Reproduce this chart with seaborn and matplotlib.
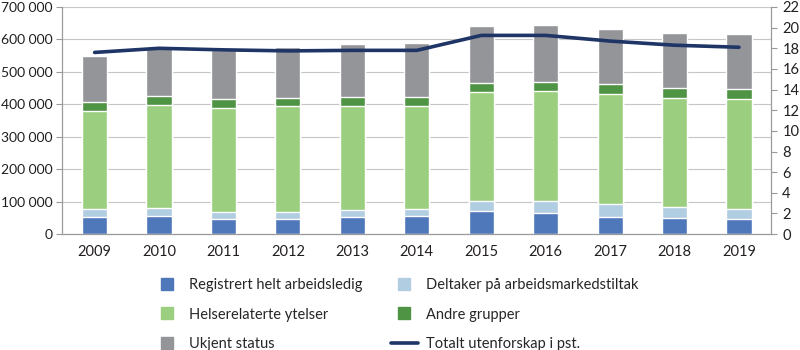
import numpy as np
import pandas as pd
import matplotlib
matplotlib.use("Agg")
from matplotlib import pyplot as plt
from matplotlib.lines import Line2D
from matplotlib.ticker import FuncFormatter, FixedLocator
import seaborn as sns

years = ['2009', '2010', '2011', '2012', '2013', '2014', '2015', '2016', '2017', '2018', '2019']

# stacked components (persons)
registrert = [52000, 57000, 47000, 47000, 52000, 56000, 72000, 64000, 52000, 50000, 47000]
deltaker = [26000, 23000, 21000, 21000, 22000, 21000, 29000, 38000, 42000, 33000, 29000]
helse = [301000, 319000, 322000, 327000, 321000, 319000, 336000, 339000, 339000, 337000, 340000]
andre = [28000, 27000, 26000, 25000, 28000, 28000, 30000, 29000, 29000, 31000, 31000]
ukjent = [141000, 147000, 152000, 157000, 163000, 165000, 173000, 174000, 170000, 169000, 170000]

# total outside work, percent (right axis)
totalt_pst = [17.6, 18.0, 17.85, 17.75, 17.8, 17.8, 19.25, 19.25, 18.7, 18.3, 18.1]

labels = ['Registrert helt arbeidsledig', 'Deltaker på arbeidsmarkedstiltak',
          'Helserelaterte ytelser', 'Andre grupper', 'Ukjent status']
colors = ['#4f78bb', '#b1cde1', '#9bcf7f', '#4f9444', '#939598']
line_color = '#1f3566'

sns.set_style('white')
plt.rcParams['font.family'] = ['Lato', 'DejaVu Sans']

parts = [registrert, deltaker, helse, andre, ukjent]
cum = np.cumsum(np.array(parts), axis=0)

fig = plt.figure(figsize=(8, 3.5), dpi=100)
ax = fig.add_axes([0.078, 0.331, 0.886, 0.649])

# draw cumulative totals from top down so each layer covers the one above
for i in range(len(parts) - 1, -1, -1):
    df = pd.DataFrame({'year': years, 'value': cum[i]})
    sns.barplot(data=df, x='year', y='value', color=colors[i], width=0.39,
                saturation=1, ax=ax, zorder=2)

ax.set_xlim(-0.5, 10.5)
ax.set_ylim(0, 700000)
ax.yaxis.set_major_locator(FixedLocator(np.arange(0, 700001, 100000)))
ax.yaxis.set_major_formatter(FuncFormatter(lambda v, p: f"{v:,.0f}".replace(",", " ")))
ax.grid(axis='y', color='#c6c6c6', linewidth=0.8, zorder=0)
ax.set_axisbelow(True)
ax.set_xlabel('')
ax.set_ylabel('')

# ticks between categories on x
ax.set_xticks(np.arange(11))
ax.set_xticks(np.arange(-0.5, 11, 1), minor=True)
ax.tick_params(axis='x', which='major', length=0, pad=8, labelsize=10.5, colors='#231f20')
ax.tick_params(axis='x', which='minor', length=4, color='#9a9a9a', width=0.8)
ax.tick_params(axis='y', length=4, color='#9a9a9a', width=0.8, labelsize=10,
               labelcolor='#231f20', pad=3)

ax.spines['top'].set_visible(False)
for s in ['left', 'bottom', 'right']:
    ax.spines[s].set_color('#9a9a9a')
    ax.spines[s].set_linewidth(0.8)

ax2 = ax.twinx()
sns.lineplot(x=np.arange(11), y=totalt_pst, color=line_color, linewidth=2.6, ax=ax2, zorder=5)
ax2.set_ylim(0, 22)
ax2.yaxis.set_major_locator(FixedLocator(np.arange(0, 23, 2)))
ax2.tick_params(axis='y', length=4, color='#9a9a9a', width=0.8, labelsize=10.5,
                labelcolor='#231f20', pad=4)
ax2.spines['top'].set_visible(False)
for s in ['left', 'bottom', 'right']:
    ax2.spines[s].set_color('#9a9a9a')
    ax2.spines[s].set_linewidth(0.8)
ax2.grid(False)

def sq(c):
    return Line2D([], [], linestyle='none', marker='s', markersize=8,
                  markerfacecolor=c, markeredgecolor=c)

handles = [sq(colors[0]), sq(colors[2]), sq(colors[4]),
           sq(colors[1]), sq(colors[3]),
           Line2D([], [], color=line_color, linewidth=2.6)]
leg_labels = [labels[0], labels[2], labels[4], labels[1], labels[3],
              'Totalt utenforskap i pst.']
fig.legend(handles, leg_labels, ncol=2, loc='upper left', bbox_to_anchor=(0.192, 0.205),
           frameon=False, fontsize=10.5, handlelength=1.9, handletextpad=0.55,
           columnspacing=1.9, labelspacing=1.05, borderaxespad=0, borderpad=0)

fig.savefig('out.png', dpi=100)
